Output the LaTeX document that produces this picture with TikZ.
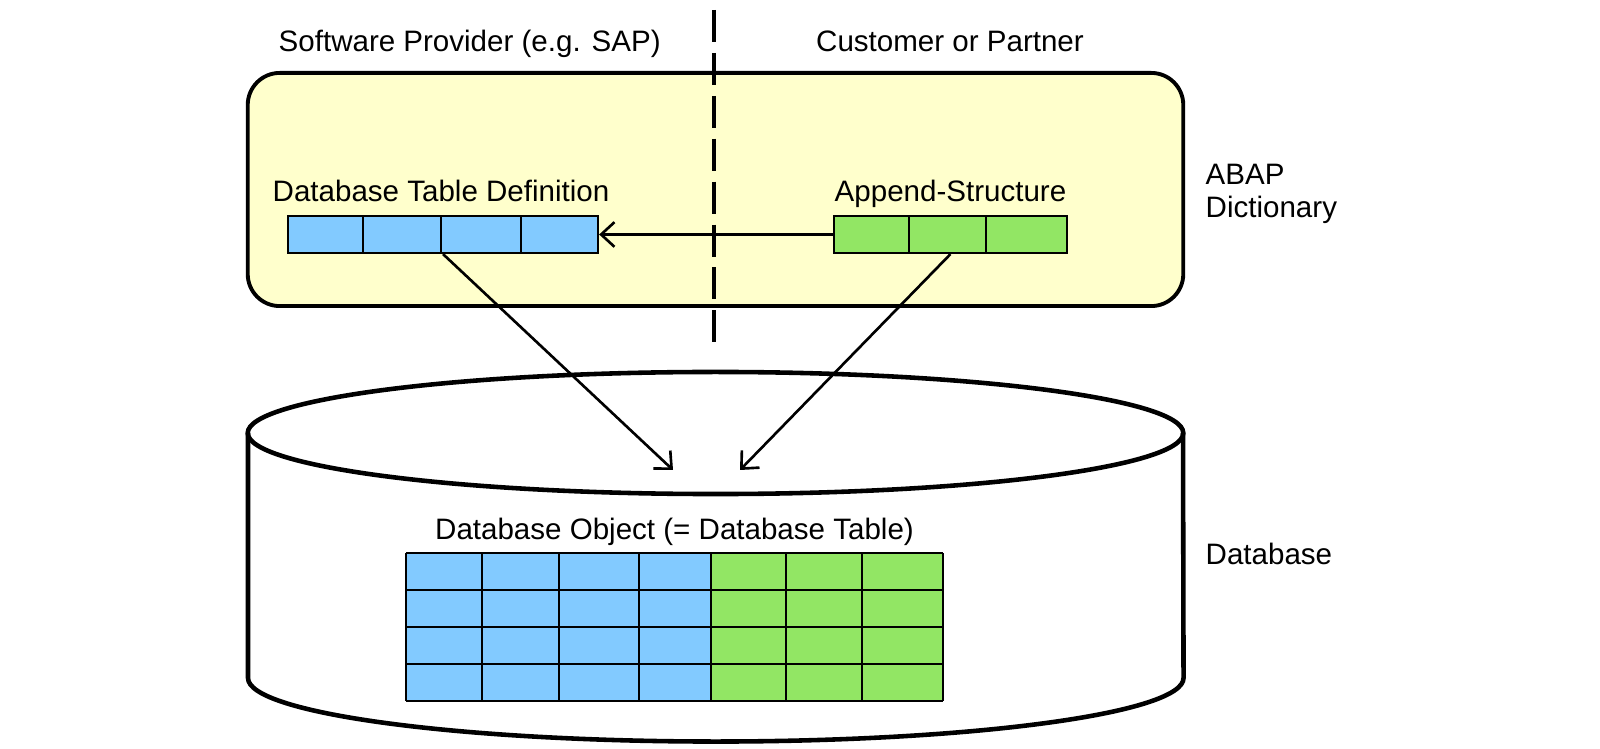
\documentclass[tikz,border=0pt]{standalone}
\usepackage{fontspec}
\setmainfont{Liberation Sans}
\usetikzlibrary{arrows.meta}
\definecolor{dictyellow}{HTML}{FFFFCC}
\definecolor{sapblue}{HTML}{82CAFF}
\definecolor{custgreen}{HTML}{92E664}
\tikzset{
  lbl/.style={inner sep=0pt, anchor=base west, font=\fontsize{8.4pt}{9.4pt}\selectfont},
  lblc/.style={lbl, anchor=base},
  bar/.style={draw=black, line width=0.6pt, minimum height=0.37cm, inner sep=0pt},
  bluebar/.style={bar, fill=sapblue, minimum width=3.10cm},
  greenbar/.style={bar, fill=custgreen, minimum width=2.33cm},
  divider/.style={line width=0.6pt},
  flow/.style={line width=0.75pt, -{Straight Barb[length=3.8pt,width=7pt,line width=0.75pt]}},
  dictbox/.style={draw=black, line width=1.1pt, fill=dictyellow, rounded corners=0.32cm,
    minimum width=9.35cm, minimum height=2.33cm, inner sep=0pt},
  sep/.style={line width=1.1pt, dash pattern=on 9.1pt off 3.1pt},
  cyl/.style={line width=1.3pt},
  cell/.style={line width=0.55pt}
}
\begin{document}
\begin{tikzpicture}[x=0.01cm,y=-0.01cm]
\useasboundingbox (0,0) rectangle (1600,749);

% ABAP Dictionary box
\node[dictbox] (dict) at (715.5,189.5) {};

% column headers
\node[lbl] (prov) at (278,52) {Software Provider (e.g. SAP)};
\node[lblc] (cust) at (950,52) {Customer or Partner};

% separator
\coordinate (septop) at (714,10);
\coordinate (sepbot) at (714,348);
\draw[sep] (septop) -- (sepbot);

% table definition bar
\node[lbl] (deflbl) at (272,202) {Database Table Definition};
\node[bluebar] (def) at (443,234.5) {};
\foreach \x in {363,441,521} \draw[divider] (\x,216) -- (\x,253);

% append structure bar
\node[lbl] (applbl) at (834,202) {Append-Structure};
\node[greenbar] (app) at (950.5,234.5) {};
\foreach \x in {909,986} \draw[divider] (\x,216) -- (\x,253);

% side labels
\node[lbl, align=left, anchor=base west] (abap) at (1205,218) {ABAP\\Dictionary};
\node[lbl] (dblbl) at (1205,564) {Database};

% database cylinder
\draw[cyl] (715.5,433) ellipse [x radius=4.675cm, y radius=0.61cm];
\draw[cyl] (248,433) -- (248,678)
  arc[start angle=180, end angle=360, x radius=4.675cm, y radius=0.635cm] -- (1183,433);

% database object table
\node[lblc] (objlbl) at (674.5,539) {Database Object (= Database Table)};
\fill[sapblue] (406,553) rectangle (711,701);
\fill[custgreen] (711,553) rectangle (943,701);
\foreach \x in {406,482,559,639,711,786,862,943} \draw[cell] (\x,553) -- (\x,701);
\foreach \y in {553,590,627,664,701} \draw[cell] (406,\y) -- (943,\y);

% connectors
\coordinate (tipL) at (673,470);
\coordinate (tipR) at (740,470);
\draw[flow] (app.west) -- (def.east);
\draw[flow] (def.south) -- (tipL);
\draw[flow] (app.south) -- (tipR);
\end{tikzpicture}
\end{document}
